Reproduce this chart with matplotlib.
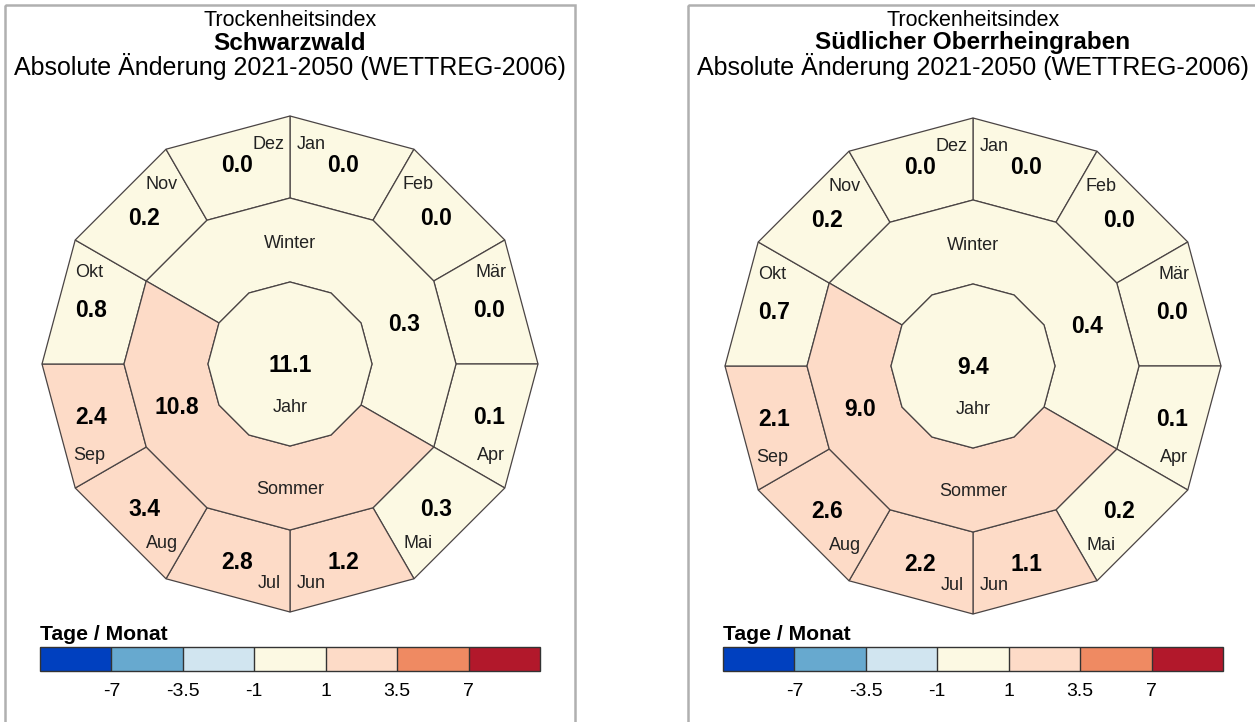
"""Trockenheitsindex: monthly / half-year / annual change shown as two
dodecagon 'clock' diagrams with a discrete legend bar underneath."""
import numpy as np
import matplotlib
matplotlib.use("Agg")
import matplotlib.pyplot as plt
from matplotlib.patches import Polygon, Rectangle
from matplotlib.colors import ListedColormap, BoundaryNorm
from matplotlib.cm import ScalarMappable

plt.rcParams["font.family"] = ["Liberation Sans", "DejaVu Sans"]

MONTHS = ["Jan", "Feb", "Mär", "Apr", "Mai", "Jun",
          "Jul", "Aug", "Sep", "Okt", "Nov", "Dez"]
SEASONS = ["Winter", "Sommer"]

SW_NAME = "Schwarzwald"
SW_MONTH = [0.0, 0.0, 0.0, 0.1, 0.3, 1.2, 2.8, 3.4, 2.4, 0.8, 0.2, 0.0]
SW_SEASON = [0.3, 10.8]
SW_YEAR = 11.1

OR_NAME = "Südlicher Oberrheingraben"
OR_MONTH = [0.0, 0.0, 0.0, 0.1, 0.2, 1.1, 2.2, 2.6, 2.1, 0.7, 0.2, 0.0]
OR_SEASON = [0.4, 9.0]
OR_YEAR = 9.4

BOUNDS = [-7, -3.5, -1, 1, 3.5, 7]
TICK_LABELS = ["-7", "-3.5", "-1", "1", "3.5", "7"]
COLORS = ["#0040bf", "#67a9cf", "#d1e5f0", "#fcf9e3",
          "#fddbc7", "#ef8a62", "#b2182b"]

cmap = ListedColormap(COLORS)
norm = BoundaryNorm(BOUNDS, ncolors=len(COLORS), extend="both")

W, H = 1255, 722
R_OUT, R_MID, R_IN = 248, 166, 82
EDGE = "#4a4444"
LAB = 13        # month / season labels
VAL = 16.5      # bold values

fig = plt.figure(figsize=(W / 100, H / 100), dpi=100)
ax = fig.add_axes([0, 0, 1, 1])
ax.set_xlim(0, W)
ax.set_ylim(H, 0)
ax.axis("off")


def pt(cx, cy, r, a):
    a = np.deg2rad(a)
    return cx + r * np.cos(a), cy - r * np.sin(a)


def sector(cx, cy, r0, r1, a0, a1):
    # a0 > a1, walk clockwise in 30 degree steps
    angs = np.arange(a0, a1 - 0.1, -30.0)
    outer = [pt(cx, cy, r1, a) for a in angs]
    inner = [pt(cx, cy, r0, a) for a in angs[::-1]]
    return outer + inner


def colour(v, n):
    return cmap(norm(v / n))


def panel(cx, cy, name, month, season, year, x0):
    # frame
    ax.add_patch(Rectangle((x0, 5), 570, 760, fill=False,
                           edgecolor="#b0b0b0", lw=1.8))
    # title
    ax.text(cx, 21, "Trockenheitsindex", ha="center", va="center", fontsize=15.5)
    ax.text(cx, 43, name, ha="center", va="center", fontsize=17.5,
            fontweight="bold")
    ax.text(cx, 66, "Absolute Änderung 2021-2050 (WETTREG-2006)",
            ha="center", va="center", fontsize=18)

    # months
    for i, (m, v) in enumerate(zip(MONTHS, month)):
        a0 = 90 - 30 * i
        ax.add_patch(Polygon(sector(cx, cy, R_MID, R_OUT, a0, a0 - 30),
                             closed=True, facecolor=colour(v, 1),
                             edgecolor=EDGE, lw=0.9))
        c = a0 - 15
        off = 9.5 * np.sign(np.cos(np.deg2rad(c))) * np.sign(np.sin(np.deg2rad(c)))
        x, y = pt(cx, cy, 206, c)
        ax.text(x, y, f"{v:.1f}", ha="center", va="center",
                fontsize=VAL, fontweight="bold")
        x, y = pt(cx, cy, 221, c + off)
        ax.text(x, y, m, ha="center", va="center", fontsize=LAB, color="#222222")

    # half-years: Winter Nov-Apr, Sommer Mai-Okt
    spans = [(150, -30), (-30, -210)]
    lab_ang = [90, -90]
    val_ang = [19, 201]
    lab_r = [121, 126]
    for s, v, (a0, a1), la, va_, lr in zip(SEASONS, season, spans,
                                           lab_ang, val_ang, lab_r):
        ax.add_patch(Polygon(sector(cx, cy, R_IN, R_MID, a0, a1),
                             closed=True, facecolor=colour(v, 6),
                             edgecolor=EDGE, lw=0.9))
        x, y = pt(cx, cy, lr, la)
        ax.text(x, y, s, ha="center", va="center", fontsize=LAB, color="#222222")
        x, y = pt(cx, cy, 121, va_)
        ax.text(x, y, f"{v:.1f}", ha="center", va="center",
                fontsize=VAL, fontweight="bold")

    # year
    ring = [pt(cx, cy, R_IN, a) for a in np.arange(90, -270, -30.0)]
    ax.add_patch(Polygon(ring, closed=True, facecolor=colour(year, 12),
                         edgecolor=EDGE, lw=0.9))
    ax.text(cx, cy + 2, f"{year:.1f}", ha="center", va="center",
            fontsize=VAL, fontweight="bold")
    ax.text(cx, cy + 44, "Jahr", ha="center", va="center", fontsize=LAB,
            color="#222222")

    # legend bar
    bx = cx - 250
    ax.text(bx, 634, "Tage / Monat", ha="left", va="center",
            fontsize=15.2, fontweight="bold")
    cax = fig.add_axes([bx / W, 1 - 671 / H, 500 / W, 24 / H])
    cb = fig.colorbar(ScalarMappable(norm=norm, cmap=cmap), cax=cax,
                      orientation="horizontal", extend="both",
                      extendrect=True, extendfrac=0.2, spacing="uniform",
                      drawedges=True)
    cb.set_ticks(BOUNDS, labels=TICK_LABELS)
    cb.outline.set_edgecolor("#333333")
    cb.outline.set_linewidth(1.0)
    cb.dividers.set_color("#333333")
    cb.dividers.set_linewidth(1.0)
    cax.tick_params(length=0, pad=9, labelsize=14)


panel(290, 364, SW_NAME, SW_MONTH, SW_SEASON, SW_YEAR, 5)
panel(973, 366, OR_NAME, OR_MONTH, OR_SEASON, OR_YEAR, 688)

fig.savefig("out.png", dpi=100)
